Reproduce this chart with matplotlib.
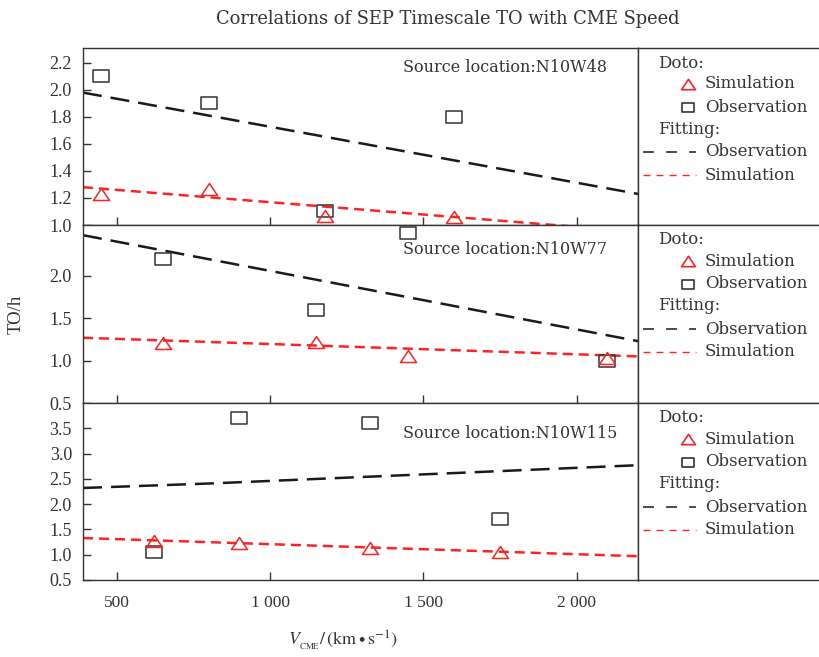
import matplotlib
matplotlib.use("Agg")
import matplotlib.pyplot as plt
from matplotlib.path import Path
from matplotlib.lines import Line2D

# ---- data -------------------------------------------------------------
locations = ["N10W48", "N10W77", "N10W115"]

speed_w48 = [450, 800, 1180, 1600]
obs_w48 = [2.10, 1.90, 1.10, 1.80]
sim_w48 = [1.23, 1.27, 1.07, 1.06]

speed_w77 = [650, 1150, 1450, 2100]
obs_w77 = [2.20, 1.60, 2.50, 1.00]
sim_w77 = [1.21, 1.22, 1.06, 1.03]

speed_w115 = [620, 900, 1325, 1750]
obs_w115 = [1.05, 3.70, 3.60, 1.70]
sim_w115 = [1.27, 1.23, 1.13, 1.05]

# fitted trend lines
fit_x = [390, 2200]
fit_obs_w48 = [1.98, 1.23]
fit_sim_w48 = [1.28, 0.95]
fit_obs_w77 = [2.48, 1.23]
fit_sim_w77 = [1.27, 1.05]
fit_x_w115 = [390, 810, 2200]
fit_obs_w115 = [2.32, 2.41, 2.77]
fit_sim_w115 = [1.33, 0.97]

x_ticks = [500, 1000, 1500, 2000]
x_ticklabels = ["500", "1 000", "1 500", "2 000"]
y_ticks = [
    [1.0, 1.2, 1.4, 1.6, 1.8, 2.0, 2.2],
    [0.5, 1.0, 1.5, 2.0],
    [0.5, 1.0, 1.5, 2.0, 2.5, 3.0, 3.5],
]
y_limits = [(1.0, 2.31), (0.5, 2.6), (0.5, 4.0)]

panels = [
    (speed_w48, obs_w48, sim_w48, fit_x, fit_obs_w48, fit_x, fit_sim_w48),
    (speed_w77, obs_w77, sim_w77, fit_x, fit_obs_w77, fit_x, fit_sim_w77),
    (speed_w115, obs_w115, sim_w115, fit_x_w115, fit_obs_w115, fit_x, fit_sim_w115),
]

# ---- style ------------------------------------------------------------
plt.rcParams["mathtext.fontset"] = "stix"
INK = "#333333"
RED = "#ff2222"
TXT_FONT = "DejaVu Serif"
NUM_FONT = "Liberation Serif"

rect_marker = Path([(-1, -0.72), (1, -0.72), (1, 0.72), (-1, 0.72), (-1, -0.72)], closed=True)
tri_marker = Path([(-1, -0.75), (1, -0.75), (0, 0.75), (-1, -0.75)], closed=True)

W, H = 820, 657
fig = plt.figure(figsize=(W / 100, H / 100), dpi=100)

tops = [48, 225, 403]
bottoms = [225, 403, 580]
left_px, right_px = 83, 638
label_offsets = [19, 25, 30]

fig.text(448 / W, 1 - 19 / H, "Correlations of SEP Timescale TO with CME Speed",
         ha="center", va="center", fontsize=12.9, family=TXT_FONT, color=INK)

for i, (top, bot) in enumerate(zip(tops, bottoms)):
    h = bot - top
    ax = fig.add_axes([left_px / W, 1 - bot / H, (right_px - left_px) / W, h / H])
    sx, so, ss, fxo, fyo, fxs, fys = panels[i]

    ax.plot(fxo, fyo, color="#1a1a1a", lw=1.8, dashes=(7.6, 3.6), zorder=2)
    ax.plot(fxs, fys, color=RED, lw=1.8, dashes=(4.0, 2.4), zorder=2)
    ax.plot(sx, so, ls="none", marker=rect_marker, ms=11.5, mfc="none",
            mec=INK, mew=1.1, zorder=3)
    ax.plot(sx, ss, ls="none", marker=tri_marker, ms=11.5, mfc="none",
            mec=RED, mew=1.1, zorder=4)

    ax.set_xlim(390, 2200)
    ax.set_ylim(*y_limits[i])
    ax.set_xticks(x_ticks)
    ax.set_yticks(y_ticks[i])
    ax.set_yticklabels([f"{v:.1f}" for v in y_ticks[i]], family=NUM_FONT,
                       fontsize=13, color=INK)
    if i == 2:
        ax.set_xticklabels(x_ticklabels, family=NUM_FONT, fontsize=12.5, color=INK)
    else:
        ax.set_xticklabels([])
    ax.tick_params(axis="x", direction="in", length=6, width=1.0, color=INK, pad=11)
    ax.tick_params(axis="y", direction="in", length=6, width=1.0, color=INK, pad=8)
    for sp in ax.spines.values():
        sp.set_color(INK)
        sp.set_linewidth(1.0)

    ax.text((403 - left_px) / (right_px - left_px), 1 - label_offsets[i] / h,
            "Source location:" + locations[i], transform=ax.transAxes,
            ha="left", va="center", fontsize=11.5, family=TXT_FONT, color=INK)

    if i == 1:
        ax.set_ylabel("TO/h", family=NUM_FONT, fontsize=13.5, color=INK, labelpad=18)

    # legend panel on the right
    lg = fig.add_axes([right_px / W, 1 - bot / H, (W - right_px) / W, h / H])
    lg.set_xlim(0, W - right_px)
    lg.set_ylim(h, 0)
    lg.set_xticks([])
    lg.set_yticks([])
    lg.spines["right"].set_visible(False)
    for sp in ("left", "top", "bottom"):
        lg.spines[sp].set_color(INK)
        lg.spines[sp].set_linewidth(1.0)

    fs = 12
    lg.text(20, 15, "Doto:", fontsize=fs, family=TXT_FONT, color=INK, va="center")
    lg.add_line(Line2D([50], [36], ls="none", marker=tri_marker, ms=10,
                       mfc="none", mec=RED, mew=1.2))
    lg.text(67, 36, "Simulation", fontsize=fs, family=TXT_FONT, color=INK, va="center")
    lg.add_line(Line2D([50], [59], ls="none", marker=rect_marker, ms=9,
                       mfc="none", mec=INK, mew=1.2))
    lg.text(67, 59, "Observation", fontsize=fs, family=TXT_FONT, color=INK, va="center")
    lg.text(20, 81, "Fitting:", fontsize=fs, family=TXT_FONT, color=INK, va="center")
    lg.add_line(Line2D([5, 58], [104, 104], color="#1a1a1a", lw=1.1, dashes=(7.2, 7.9)))
    lg.text(67, 104, "Observation", fontsize=fs, family=TXT_FONT, color=INK, va="center")
    lg.add_line(Line2D([5, 58], [127, 127], color=RED, lw=1.0, dashes=(5.0, 4.4)))
    lg.text(67, 127, "Simulation", fontsize=fs, family=TXT_FONT, color=INK, va="center")

fig.text(343 / W, 1 - 640 / H,
         r"$V_{\mathrm{_{CME}}}/\,(\mathrm{km}\bullet\mathrm{s}^{-1})$",
         ha="center", va="center", fontsize=13, color=INK)

fig.savefig("out.png", dpi=100)
